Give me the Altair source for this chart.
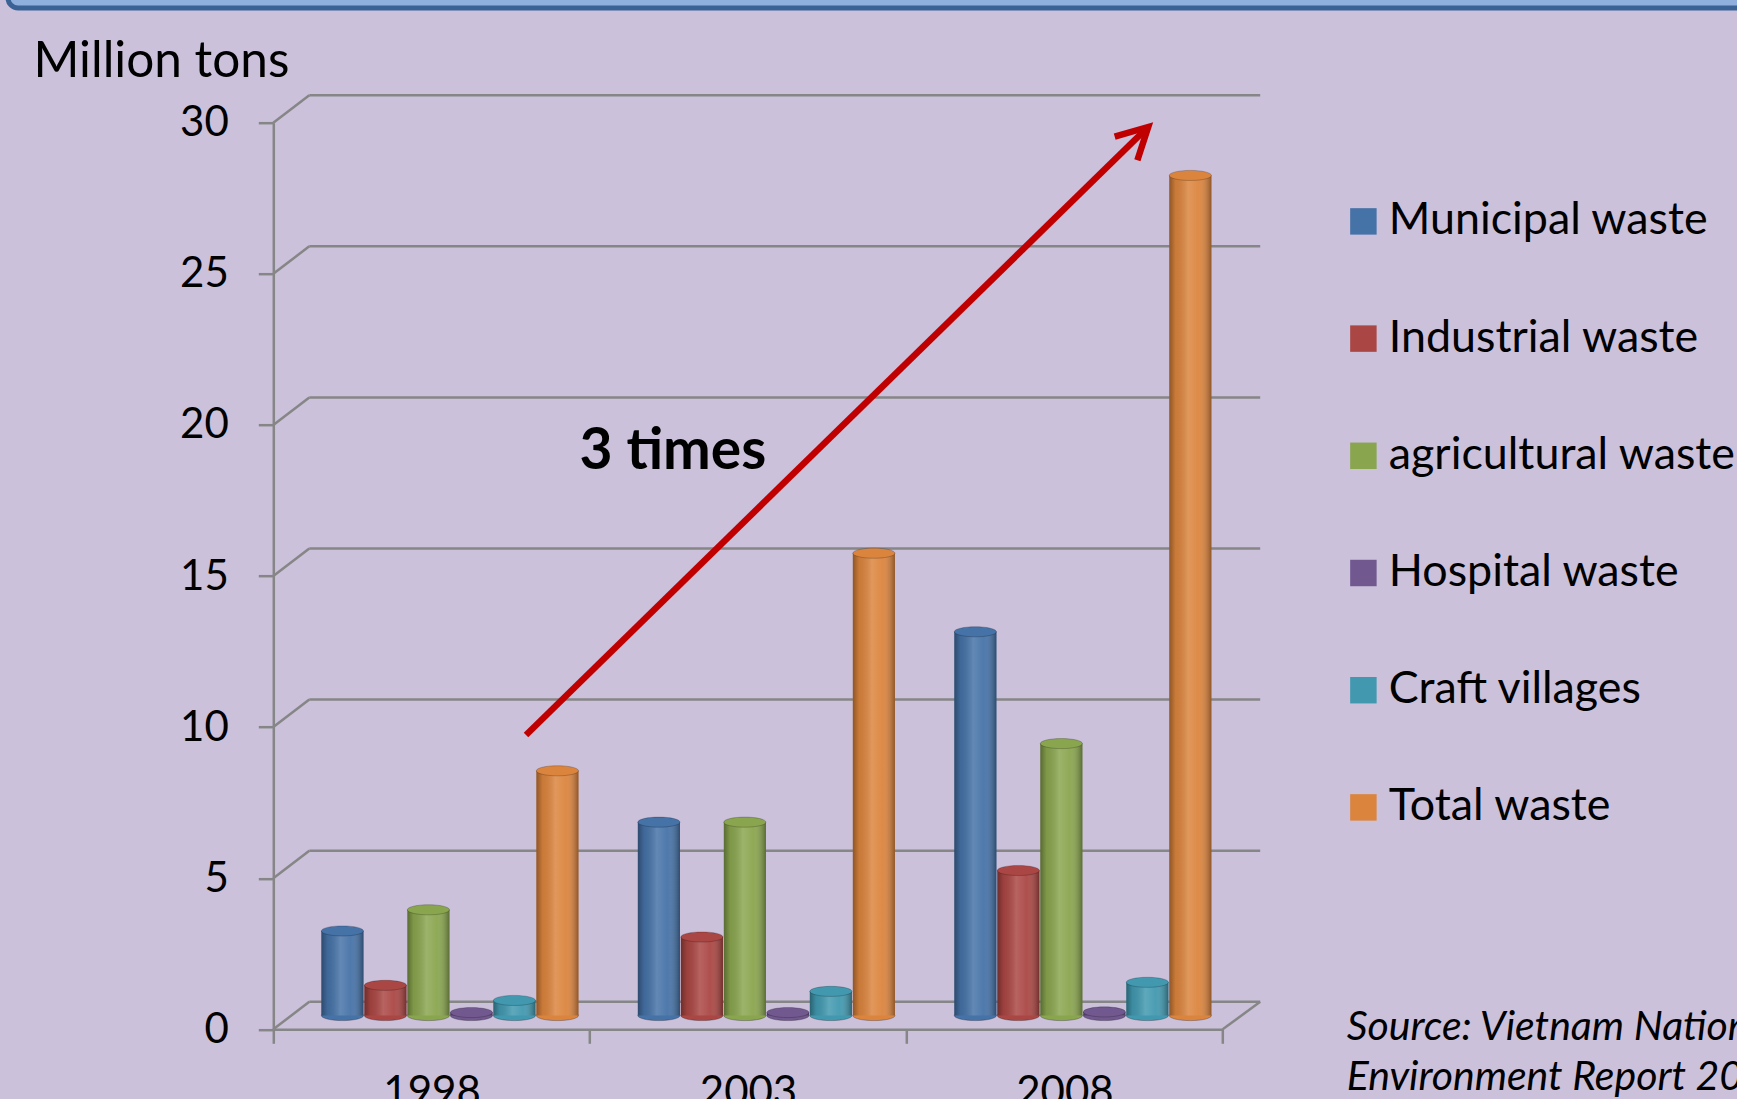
import altair as alt
import pandas as pd

# ---------------- data ----------------
years = ["1998", "2003", "2008"]
series = ["Municipal waste", "Industrial waste", "agricultural waste",
          "Hospital waste", "Craft villages", "Total waste"]
municipal = [2.8, 6.4, 12.7]
industrial = [1.0, 2.6, 4.8]
agricultural = [3.5, 6.4, 9.0]
hospital = [0.1, 0.1, 0.12]
craft = [0.5, 0.8, 1.1]
total = [8.1, 15.3, 27.8]
y_ticks = [0, 5, 10, 15, 20, 25, 30]
colors = ["#4572A7", "#AA4643", "#89A54E", "#71588F", "#4198AF", "#DB843D"]

rows = []
for s, vals in zip(series, [municipal, industrial, agricultural, hospital, craft, total]):
    for yr, v in zip(years, vals):
        rows.append({"year": yr, "series": s, "value": v, "zero": 0})
df = pd.DataFrame(rows)
ticks_df = pd.DataFrame({"tick": y_ticks})
one = pd.DataFrame({"k": [0]})

# ---------------- layout (pixels) ----------------
LEFT, TOP = 273.3, 122.7
PW, PH = 949.4, 906.6
RIGHT = 1737 - LEFT - PW
BOTTOM = 1099 - TOP - PH
DX_L, DX_R, DY = 36, 37.5, 27.5
MID_DY = -DY / 2
FONT = "Lato"
GRID = "#868686"
BG = "#CBC1DB"

x_scale = alt.Scale(domain=years, paddingInner=0, paddingOuter=0)
xo_scale = alt.Scale(domain=series, paddingInner=0.02, paddingOuter=0.69, align=0.81)
y_scale = alt.Scale(domain=[0, 30], nice=False, zero=True)
c_scale = alt.Scale(domain=series, range=colors)

step = (PW / 3) / (6 - 0.02 + 2 * 0.69)
BW = step * (1 - 0.02)

y_axis = alt.Axis(values=y_ticks, labelFontSize=42, labelFont=FONT, labelColor="black",
                  tickSize=15, tickColor=GRID, tickWidth=2.5, domainColor=GRID,
                  domainWidth=2.5, labelPadding=30, grid=False,
                  title="Million tons", titleAngle=0, titleAlign="left",
                  titleBaseline="alphabetic", titleX=33 - LEFT, titleY=76 - TOP,
                  titleFontSize=49.5, titleFont=FONT, titleFontWeight="normal",
                  titleColor="black")
x_axis = alt.Axis(labelFontSize=42, labelFont=FONT, labelColor="black", labelAngle=0,
                  tickSize=14, tickColor=GRID, tickWidth=2.5, domainColor=GRID,
                  domainWidth=2.5, labelPadding=29, tickBand="extent", title=None,
                  grid=False)
legend = alt.Legend(
    orient="none", legendX=1341 - LEFT, legendY=199 - TOP, title=None,
    symbolType="square", symbolSize=700, symbolStrokeWidth=0, symbolOpacity=1,
    labelFontSize=44.8, labelFont=FONT, labelColor="black", labelLimit=1000,
    rowPadding=71.2, labelOffset=3, padding=0)
enc_color = alt.Color("series:N", scale=c_scale, legend=legend)

# top frame band
frame = alt.Chart(one).mark_rect(fill="#8FB0DC", stroke="#3B6295", strokeWidth=5,
                                 cornerRadius=10).encode(
    x=alt.value(8 - LEFT), x2=alt.value(PW + RIGHT + 40),
    y=alt.value(-TOP - 60), y2=alt.value(8 - TOP))

back_grid = alt.Chart(ticks_df).mark_rule(color=GRID, strokeWidth=2.5, yOffset=-DY).encode(
    y=alt.Y("tick:Q", scale=y_scale, axis=y_axis),
    x=alt.value(DX_L), x2=alt.value(PW + DX_R))

left_diag = alt.Chart(ticks_df).mark_rule(color=GRID, strokeWidth=2.5, y2Offset=-DY).encode(
    y=alt.Y("tick:Q", scale=y_scale, axis=y_axis), y2="tick:Q",
    x=alt.value(0), x2=alt.value(DX_L))

right_diag = alt.Chart(one).mark_rule(color=GRID, strokeWidth=2.5, y2Offset=-DY).encode(
    y=alt.Y("k:Q", scale=y_scale, axis=y_axis), y2="k:Q",
    x=alt.value(PW), x2=alt.value(PW + DX_R))

ellipse = "M-1,0A1,0.24,0,1,1,1,0A1,0.24,0,1,1,-1,0Z"

base = alt.Chart(df)
enc_x = alt.X("year:N", scale=x_scale, axis=x_axis)
enc_xo = alt.XOffset("series:N", scale=xo_scale)

bottom_caps = base.mark_point(shape=ellipse, filled=True, opacity=1, size=BW * BW,
                              yOffset=MID_DY, stroke="rgba(0,0,0,0.25)", strokeWidth=1).encode(
    x=enc_x, xOffset=enc_xo,
    y=alt.Y("zero:Q", scale=y_scale, axis=y_axis),
    color=enc_color)

bars = base.mark_bar(yOffset=MID_DY, y2Offset=MID_DY).encode(
    x=enc_x, xOffset=enc_xo,
    y=alt.Y("value:Q", scale=y_scale, axis=y_axis),
    color=enc_color)

shade = alt.Gradient(gradient="linear", x1=0, x2=1, y1=0, y2=0, stops=[
    alt.GradientStop(color="rgba(0,0,0,0.35)", offset=0),
    alt.GradientStop(color="rgba(0,0,0,0.08)", offset=0.15),
    alt.GradientStop(color="rgba(255,255,255,0.16)", offset=0.45),
    alt.GradientStop(color="rgba(255,255,255,0.05)", offset=0.7),
    alt.GradientStop(color="rgba(0,0,0,0.35)", offset=1)])

bar_shade = base.mark_bar(yOffset=MID_DY, y2Offset=MID_DY, fill=shade).encode(
    x=enc_x, xOffset=enc_xo,
    y=alt.Y("value:Q", scale=y_scale, axis=y_axis))

top_caps = base.mark_point(shape=ellipse, filled=True, opacity=1, size=BW * BW,
                           yOffset=MID_DY, stroke="rgba(0,0,0,0.2)", strokeWidth=1).encode(
    x=enc_x, xOffset=enc_xo,
    y=alt.Y("value:Q", scale=y_scale, axis=y_axis),
    color=enc_color)

RED = "#C00000"
arrow_line = alt.Chart(one).mark_rule(color=RED, strokeWidth=6.5).encode(
    x=alt.value(526 - LEFT), y=alt.value(735 - TOP),
    x2=alt.value(1146 - LEFT), y2=alt.value(129 - TOP))

arrow_head = alt.Chart(one).mark_point(
    shape="M-0.53,1L0,0L0.53,1", filled=False, opacity=1, stroke=RED,
    strokeWidth=6.5, size=3800, angle=46, strokeJoin="miter").encode(
    x=alt.value(1148.2 - LEFT), y=alt.value(127 - TOP))

times_text = alt.Chart(one).mark_text(text="3 times", font=FONT, fontSize=57,
                                      fontWeight="bold", align="left",
                                      baseline="alphabetic", color="black").encode(
    x=alt.value(579.5 - LEFT), y=alt.value(469.3 - TOP))

source_text = alt.Chart(one).mark_text(
    text=["Source: Vietnam National", "Environment Report 2011"], font=FONT,
    fontSize=41, fontStyle="italic", align="left", baseline="alphabetic",
    lineHeight=50, color="black").encode(
    x=alt.value(1346.7 - LEFT), y=alt.value(1040 - TOP))

chart = alt.layer(
    frame, back_grid, left_diag, right_diag, bottom_caps, bars, bar_shade, top_caps,
    arrow_line, arrow_head, times_text, source_text
).properties(
    width=PW, height=PH,
    autosize=alt.AutoSizeParams(type="none"),
    padding={"left": LEFT, "top": TOP, "right": RIGHT, "bottom": BOTTOM},
    background=BG
).configure(font=FONT).configure_view(strokeWidth=0, stroke="transparent")

chart.save("out.html", embed_options={"renderer": "svg", "actions": False})
